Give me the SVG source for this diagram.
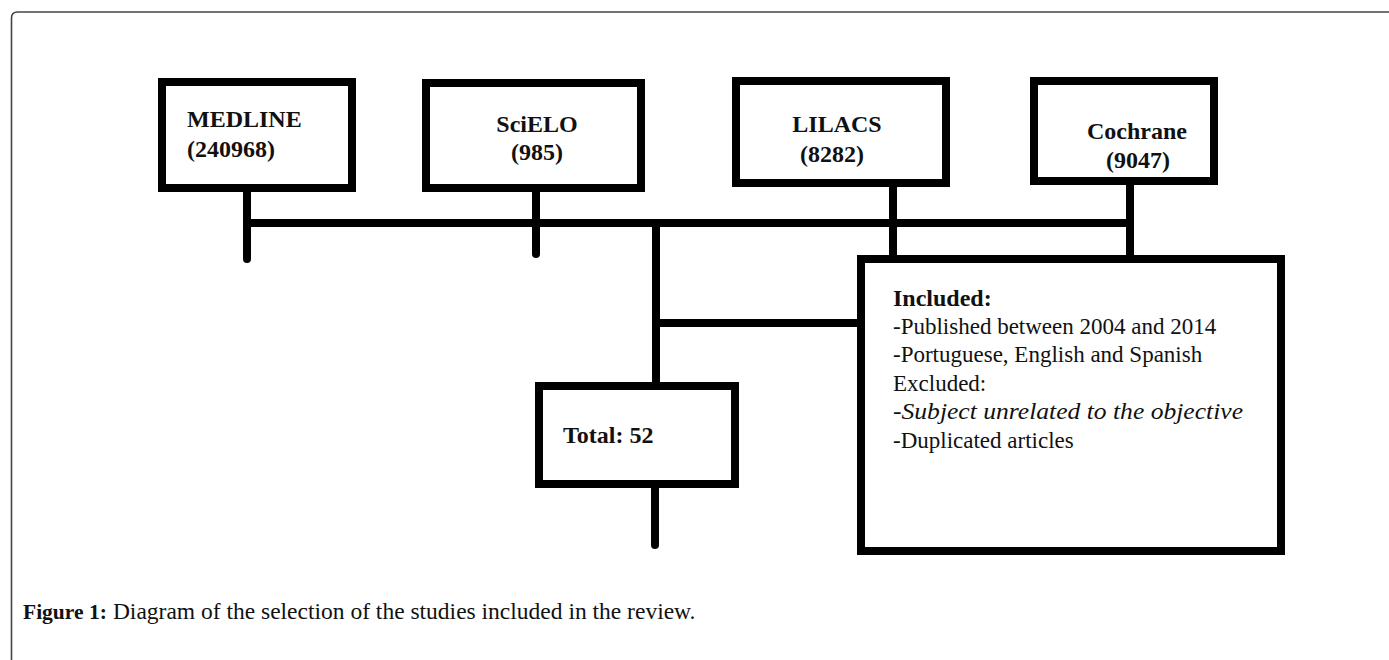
<svg xmlns="http://www.w3.org/2000/svg" width="1389" height="660" viewBox="0 0 1389 660">
<style>
.box{fill:#fff;stroke:#000;stroke-width:8}
.ln{stroke:#000;stroke-width:8;stroke-linecap:round;fill:none}
.t{font-family:"Liberation Serif","Times New Roman",serif;font-size:23px;fill:#111}
.b{font-weight:bold;font-size:24px}
.c{text-anchor:middle}
.cap{font-family:"Liberation Serif","Times New Roman",serif;font-size:23.5px;fill:#111}
</style>
<rect width="1389" height="660" fill="#fff"/>
<path d="M11.5,660 V18 Q11.5,12 17.5,12 H1389" fill="none" stroke="#444" stroke-width="1.6"/>
<g id="connectors">
<line class="ln" x1="247" y1="192" x2="247" y2="259"/>
<line class="ln" x1="536" y1="192" x2="536" y2="254"/>
<line class="ln" x1="247" y1="223" x2="1130" y2="223" style="stroke-linecap:butt"/>
<line class="ln" x1="893" y1="187" x2="893" y2="256"/>
<line class="ln" x1="1130" y1="185" x2="1130" y2="264"/>
<line class="ln" x1="656" y1="223" x2="656" y2="383" style="stroke-linecap:butt"/>
<line class="ln" x1="656" y1="323" x2="858" y2="323" style="stroke-linecap:butt"/>
<line class="ln" x1="655" y1="488" x2="655" y2="545"/>
</g>
<g id="medline">
<rect class="box" x="162" y="82" width="190" height="106"/>
<text class="t b" x="187" y="127">MEDLINE</text>
<text class="t b" x="187" y="157">(240968)</text>
</g>
<g id="scielo">
<rect class="box" x="426" y="83" width="215" height="105"/>
<text class="t b c" x="537" y="132">SciELO</text>
<text class="t b c" x="537" y="160">(985)</text>
</g>
<g id="lilacs">
<rect class="box" x="736" y="81" width="210" height="102"/>
<text class="t b c" x="837" y="132">LILACS</text>
<text class="t b c" x="832" y="162">(8282)</text>
</g>
<g id="cochrane">
<rect class="box" x="1034" y="81" width="180" height="100"/>
<text class="t b c" x="1137" y="139">Cochrane</text>
<text class="t b c" x="1138" y="168">(9047)</text>
</g>
<g id="criteria">
<rect class="box" x="861" y="259" width="420" height="292"/>
<text class="t b" x="893" y="306">Included:</text>
<text class="t" x="893" y="334">-Published between 2004 and 2014</text>
<text class="t" x="893" y="362">-Portuguese, English and Spanish</text>
<text class="t" x="893" y="391">Excluded:</text>
<text class="t" x="893" y="419" font-style="italic" textLength="350" lengthAdjust="spacingAndGlyphs">-Subject unrelated to the objective</text>
<text class="t" x="893" y="448">-Duplicated articles</text>
</g>
<g id="total">
<rect class="box" x="539" y="386" width="196" height="98"/>
<text class="t b" x="563" y="443">Total: 52</text>
</g>
<g id="caption">
<text class="cap" x="23" y="619"><tspan font-weight="bold" font-size="21.5">Figure 1:</tspan><tspan x="107"> Diagram of the selection of the studies included in the review.</tspan></text>
</g>
</svg>
